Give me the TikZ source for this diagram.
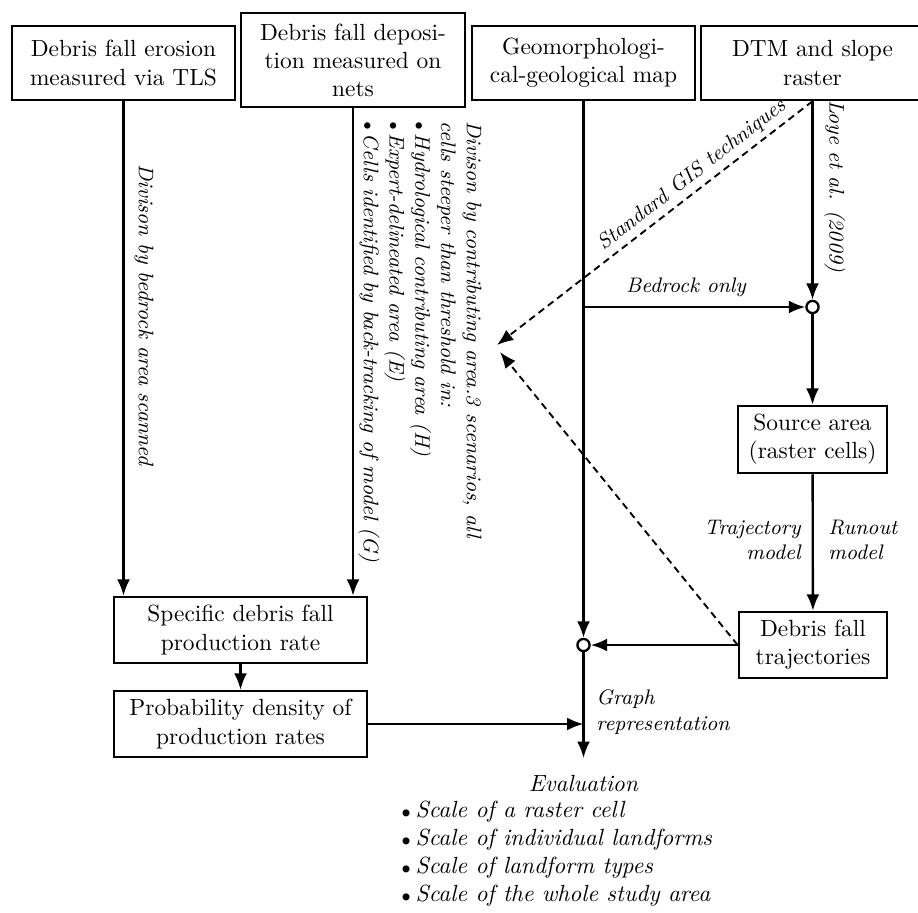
\documentclass[tikz,border=0pt]{standalone}
\usetikzlibrary{arrows.meta}
\newcommand{\mybul}{$\scriptstyle\bullet$\kern2pt}
\newcommand{\mybuls}{$\scriptstyle\bullet$\kern1.5pt}
\begin{document}
\begin{tikzpicture}[x=0.4275pt,y=-0.4275pt,
  box/.style={draw,line width=1.1pt,align=center,inner sep=0pt},
  lbl/.style={font=\small\itshape,inner sep=0pt},
  arr/.style={line width=1pt,-{Latex[length=7pt,width=5.5pt]}},
  darr/.style={line width=0.8pt,dash pattern=on 3pt off 2pt,-{Latex[length=7pt,width=5.5pt]}},
  junc/.style={circle,draw,fill=white,line width=1pt,minimum size=5.2pt,inner sep=0pt}]
\fill[white] (0,0) rectangle (918,912);
\useasboundingbox (0,0) rectangle (918,912);
% boxes
\node[box,minimum width=95.3pt,minimum height=31.6pt] (A) at (123.5,63) {Debris fall erosion\\measured via TLS};
\node[box,minimum width=95.8pt,minimum height=40.2pt] (B) at (353,60) {Debris fall deposi-\\tion measured on\\nets};
\node[box,minimum width=95.3pt,minimum height=31.6pt] (C) at (583.5,63) {Geomorphologi-\\cal-geological map};
\node[box,minimum width=95.3pt,minimum height=31.6pt] (D) at (812.5,63) {DTM and slope\\raster};
\node[box,minimum width=108.2pt,minimum height=28.2pt] (S) at (240.5,630) {Specific debris fall\\production rate};
\node[box,minimum width=108.2pt,minimum height=28.2pt] (P) at (240.5,724) {Probability density of\\production rates};
\node[box,minimum width=63.7pt,minimum height=28.6pt] (SA) at (812.5,439.5) {Source area\\(raster cells)};
\node[box,minimum width=63.3pt,minimum height=28.2pt] (T) at (813,645) {Debris fall\\trajectories};
% junctions
\node[junc] (O2) at (812.5,307) {};
\node[junc] (O1) at (583.5,645) {};
\coordinate (T1) at (497,345);
\coordinate (T2) at (500,352);
\coordinate (E) at (583.5,758);
\coordinate (Bed) at (C.south |- O2);
% connectors
\draw[arr] (A.south) -- (A.south |- S.north);
\draw[arr] (B.south) -- (B.south |- S.north);
\draw[arr] (C.south) -- (O1);
\draw[arr] (D.south) -- (O2);
\draw[arr] (Bed) -- (O2);
\draw[arr] (O2) -- (SA);
\draw[arr] (SA) -- (T);
\draw[arr] (T) -- (O1);
\draw[arr] (O1) -- (E);
\draw[arr] (S) -- (P);
\draw[arr] (P.east) -- (P.east -| C.south);
\draw[darr] (D.south) -- (T1);
\draw[darr] (T.west) -- (T2);
% labels
\node[lbl,rotate=-90] at (144,315) {Divison by bedrock area scanned};
\node[lbl,rotate=-90,anchor=north west,align=left] at (482,121) {Divison by contributing area.3 scenarios, all\\cells steeper than threshold in:\\\mybuls Hydrological contributing area (H)\\\mybuls Expert-delineated area (E)\\\mybuls Cells identified by back-tracking of model (G)};
\node[lbl,rotate=-90] at (835,186) {Loye et al. (2009)};
\node[lbl,rotate=38] at (692,175) {Standard GIS techniques};
\node[lbl] at (686,287) {Bedrock only};
\node[lbl,align=right,anchor=east] at (801,540) {Trajectory\\model};
\node[lbl,align=left,anchor=west] at (828,540) {Runout\\model};
\node[lbl,align=left,anchor=west] at (596,712) {Graph\\representation};
\node[font=\itshape,inner sep=0pt] (Ev) at (583.5,783) {Evaluation};
\node[font=\itshape,inner sep=0pt,align=left,anchor=west] (EvL) at (401,854) {\mybul Scale of a raster cell\\\mybul Scale of individual landforms\\\mybul Scale of landform types\\\mybul Scale of the whole study area};
\end{tikzpicture}
\end{document}
